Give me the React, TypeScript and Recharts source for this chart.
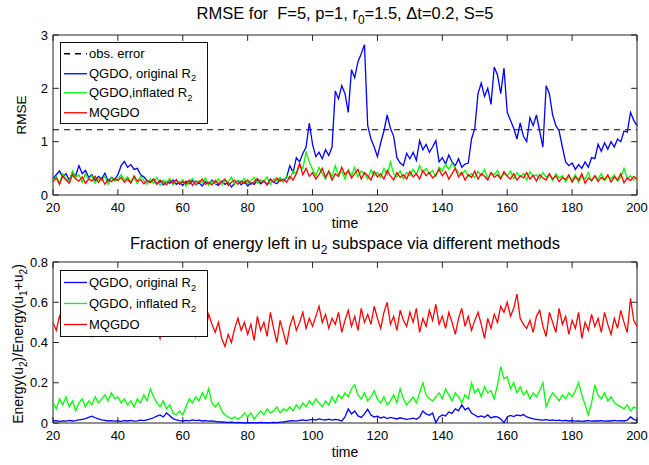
import React from "react";
import { LineChart, Line, XAxis, YAxis, ReferenceLine, ReferenceArea } from "recharts";

const FONT = '"Liberation Sans", Arial, Helvetica, sans-serif';

// time axis, step 1
const time = Array.from({ length: 181 }, (_, i) => 20 + i);
const xTicks = [20, 40, 60, 80, 100, 120, 140, 160, 180, 200];
const rmseTicks = [0, 1, 2, 3];
const fracTicks = [0, 0.2, 0.4, 0.6, 0.8];
const obsError = 1.2247;

// RMSE, QGDO original R2
const rmseOrig = [
  0.30, 0.38, 0.45, 0.33, 0.40, 0.28, 0.42, 0.36, 0.55, 0.40,
  0.46, 0.33, 0.38, 0.27, 0.35, 0.30, 0.41, 0.26, 0.33, 0.29,
  0.38, 0.55, 0.63, 0.52, 0.57, 0.48, 0.50, 0.38, 0.34, 0.27,
  0.24, 0.30, 0.21, 0.26, 0.19, 0.25, 0.22, 0.28, 0.20, 0.24,
  0.18, 0.26, 0.21, 0.27, 0.19, 0.23, 0.17, 0.25, 0.20, 0.28,
  0.21, 0.18, 0.26, 0.20, 0.24, 0.15, 0.22, 0.27, 0.19, 0.25,
  0.17, 0.23, 0.20, 0.28, 0.21, 0.26, 0.19, 0.30, 0.24, 0.21,
  0.29, 0.25, 0.33, 0.55, 0.42, 0.70, 0.62, 0.78, 0.90, 1.35,
  0.95, 0.72, 0.80, 0.68, 0.85, 0.74, 0.90, 1.95, 1.80, 2.05,
  1.90, 1.55, 2.35, 2.20, 2.50, 2.65, 2.82, 1.30, 1.05, 0.90,
  0.72, 0.98, 1.20, 1.50, 1.25, 1.10, 0.70, 0.60, 0.55, 0.78,
  0.68, 0.80, 0.65, 1.02, 0.85, 0.95, 0.80, 0.90, 1.02, 0.62,
  0.70, 0.58, 0.75, 0.62, 0.55, 0.68, 0.52, 0.58, 0.60, 1.05,
  1.25, 1.90, 2.10, 1.85, 2.00, 1.70, 2.40, 2.25, 1.90, 2.38,
  1.55, 1.40, 1.25, 1.05, 1.35, 1.10, 1.00, 1.45, 1.30, 1.50,
  1.20, 0.90, 2.05, 1.90, 1.50, 1.30, 1.20, 0.90, 0.62, 0.55,
  0.60, 0.48, 0.57, 0.50, 0.62, 0.52, 0.70, 0.68, 0.95, 0.82,
  0.98, 0.86, 1.00, 0.90, 1.05, 1.00, 1.20, 1.18, 1.55, 1.40,
  1.30,
];

// RMSE, QGDO inflated R2
const rmseInfl = [
  0.28, 0.35, 0.22, 0.40, 0.30, 0.26, 0.45, 0.33, 0.38, 0.24,
  0.40, 0.30, 0.36, 0.22, 0.31, 0.27, 0.35, 0.20, 0.32, 0.26,
  0.30, 0.38, 0.28, 0.34, 0.25, 0.32, 0.22, 0.36, 0.27, 0.20,
  0.30, 0.22, 0.33, 0.18, 0.28, 0.24, 0.31, 0.19, 0.26, 0.22,
  0.29, 0.17, 0.25, 0.31, 0.20, 0.27, 0.23, 0.32, 0.18, 0.26,
  0.22, 0.30, 0.19, 0.27, 0.24, 0.33, 0.20, 0.28, 0.23, 0.31,
  0.21, 0.27, 0.33, 0.22, 0.29, 0.25, 0.34, 0.20, 0.30, 0.26,
  0.33, 0.24, 0.36, 0.30, 0.45, 0.40, 0.55, 0.50, 0.80, 0.62,
  0.48, 0.36, 0.52, 0.40, 0.30, 0.46, 0.35, 0.55, 0.38, 0.44,
  0.30, 0.48, 0.36, 0.52, 0.34, 0.45, 0.40, 0.30, 0.47, 0.36,
  0.42, 0.33, 0.50, 0.38, 0.62, 0.40, 0.34, 0.45, 0.30, 0.42,
  0.36, 0.48, 0.38, 0.55, 0.42, 0.50, 0.40, 0.46, 0.35, 0.52,
  0.45, 0.58, 0.48, 0.60, 0.50, 0.42, 0.38, 0.46, 0.35, 0.40,
  0.33, 0.44, 0.36, 0.48, 0.30, 0.42, 0.38, 0.46, 0.32, 0.40,
  0.36, 0.45, 0.30, 0.42, 0.34, 0.40, 0.28, 0.44, 0.35, 0.38,
  0.30, 0.42, 0.33, 0.38, 0.27, 0.40, 0.32, 0.36, 0.25, 0.34,
  0.28, 0.38, 0.24, 0.35, 0.30, 0.42, 0.26, 0.36, 0.30, 0.40,
  0.27, 0.35, 0.30, 0.38, 0.26, 0.33, 0.50, 0.30, 0.36, 0.28,
  0.34,
];

// RMSE, MQGDO
const rmseMq = [
  0.25, 0.32, 0.20, 0.36, 0.28, 0.22, 0.38, 0.30, 0.26, 0.34,
  0.22, 0.30, 0.26, 0.35, 0.24, 0.32, 0.20, 0.29, 0.25, 0.31,
  0.27, 0.33, 0.24, 0.30, 0.22, 0.36, 0.26, 0.29, 0.21, 0.27,
  0.23, 0.30, 0.20, 0.28, 0.24, 0.19, 0.27, 0.22, 0.29, 0.20,
  0.25, 0.21, 0.28, 0.18, 0.26, 0.23, 0.30, 0.20, 0.24, 0.19,
  0.27, 0.21, 0.25, 0.30, 0.18, 0.24, 0.28, 0.20, 0.26, 0.22,
  0.28, 0.20, 0.25, 0.31, 0.23, 0.27, 0.19, 0.29, 0.24, 0.32,
  0.26, 0.30, 0.24, 0.35, 0.28, 0.40, 0.60, 0.38, 0.50, 0.35,
  0.42, 0.30, 0.38, 0.50, 0.33, 0.44, 0.28, 0.40, 0.35, 0.52,
  0.38, 0.45, 0.32, 0.40, 0.48, 0.30, 0.42, 0.36, 0.28, 0.44,
  0.34, 0.40, 0.30, 0.46, 0.36, 0.28, 0.42, 0.33, 0.38, 0.30,
  0.44, 0.34, 0.40, 0.30, 0.46, 0.36, 0.42, 0.32, 0.38, 0.48,
  0.36, 0.44, 0.30, 0.40, 0.50, 0.34, 0.42, 0.28, 0.38, 0.33,
  0.45, 0.30, 0.40, 0.35, 0.28, 0.42, 0.33, 0.38, 0.30, 0.44,
  0.35, 0.30, 0.40, 0.28, 0.36, 0.32, 0.42, 0.30, 0.37, 0.26,
  0.38, 0.32, 0.28, 0.40, 0.30, 0.36, 0.25, 0.33, 0.29, 0.38,
  0.24, 0.34, 0.28, 0.40, 0.22, 0.32, 0.27, 0.36, 0.25, 0.33,
  0.29, 0.38, 0.24, 0.34, 0.28, 0.40, 0.23, 0.32, 0.27, 0.35,
  0.30,
];

// energy fraction, QGDO original R2
const fracOrig = [
  0.010, 0.012, 0.008, 0.011, 0.009, 0.013, 0.010, 0.012, 0.015, 0.018,
  0.022, 0.028, 0.034, 0.026, 0.020, 0.016, 0.013, 0.010, 0.012, 0.009,
  0.011, 0.008, 0.012, 0.010, 0.013, 0.009, 0.011, 0.014, 0.012, 0.016,
  0.020, 0.026, 0.034, 0.040, 0.030, 0.050, 0.036, 0.022, 0.015, 0.012,
  0.010, 0.013, 0.011, 0.015, 0.012, 0.014, 0.010, 0.012, 0.009, 0.011,
  0.008, 0.006, 0.005, 0.004, 0.003, 0.004, 0.002, 0.003, 0.002, 0.001,
  0.002, 0.001, 0.002, 0.001, 0.003, 0.002, 0.001, 0.002, 0.003, 0.002,
  0.004, 0.005, 0.008, 0.010, 0.012, 0.009, 0.013, 0.015, 0.012, 0.016,
  0.018, 0.014, 0.020, 0.017, 0.015, 0.019, 0.014, 0.018, 0.016, 0.010,
  0.030, 0.070, 0.045, 0.060, 0.035, 0.028, 0.045, 0.068, 0.040, 0.030,
  0.034, 0.025, 0.030, 0.022, 0.028, 0.024, 0.020, 0.026, 0.022, 0.018,
  0.020, 0.024, 0.018, 0.030, 0.060, 0.045, 0.038, 0.050, 0.002, 0.030,
  0.040, 0.035, 0.055, 0.048, 0.070, 0.060, 0.090, 0.065, 0.075, 0.050,
  0.040, 0.030, 0.035, 0.028, 0.040, 0.025, 0.032, 0.030, 0.020, 0.002,
  0.030, 0.038, 0.032, 0.040, 0.036, 0.042, 0.030, 0.025, 0.020, 0.018,
  0.016, 0.014, 0.017, 0.013, 0.015, 0.012, 0.014, 0.011, 0.013, 0.010,
  0.012, 0.009, 0.011, 0.008, 0.010, 0.012, 0.009, 0.011, 0.010, 0.012,
  0.009, 0.011, 0.010, 0.013, 0.011, 0.012, 0.010, 0.014, 0.030, 0.018,
  0.012,
];

// energy fraction, QGDO inflated R2
const fracInfl = [
  0.10, 0.07, 0.12, 0.09, 0.13, 0.08, 0.11, 0.06, 0.10, 0.12,
  0.08, 0.11, 0.09, 0.13, 0.10, 0.12, 0.14, 0.11, 0.15, 0.12,
  0.13, 0.10, 0.12, 0.09, 0.11, 0.08, 0.12, 0.10, 0.14, 0.11,
  0.17, 0.13, 0.10, 0.08, 0.11, 0.07, 0.09, 0.05, 0.04, 0.06,
  0.04, 0.08, 0.12, 0.10, 0.13, 0.11, 0.15, 0.12, 0.17, 0.10,
  0.08, 0.10, 0.06, 0.04, 0.03, 0.02, 0.03, 0.02, 0.03, 0.05,
  0.03, 0.05, 0.02, 0.04, 0.06, 0.04, 0.07, 0.05, 0.06, 0.08,
  0.05, 0.07, 0.06, 0.08, 0.06, 0.09, 0.07, 0.10, 0.08, 0.11,
  0.09, 0.12, 0.10, 0.08, 0.11, 0.09, 0.13, 0.10, 0.14, 0.12,
  0.15, 0.13, 0.17, 0.19, 0.14, 0.12, 0.15, 0.11, 0.13, 0.16,
  0.12, 0.10, 0.13, 0.09, 0.11, 0.14, 0.10, 0.17, 0.12, 0.09,
  0.11, 0.13, 0.10, 0.15, 0.20, 0.14, 0.12, 0.11, 0.13, 0.15,
  0.12, 0.17, 0.14, 0.11, 0.15, 0.13, 0.10, 0.14, 0.12, 0.20,
  0.15, 0.17, 0.13, 0.18, 0.15, 0.16, 0.12, 0.19, 0.28, 0.22,
  0.23, 0.17, 0.20, 0.15, 0.18, 0.14, 0.16, 0.12, 0.15, 0.13,
  0.16, 0.20, 0.08, 0.12, 0.15, 0.13, 0.11, 0.14, 0.12, 0.15,
  0.13, 0.16, 0.20, 0.14, 0.09, 0.04, 0.10, 0.19, 0.14, 0.12,
  0.15, 0.11, 0.13, 0.10, 0.09, 0.08, 0.07, 0.09, 0.06, 0.08,
  0.07,
];

// energy fraction, MQGDO
const fracMq = [
  0.50, 0.46, 0.53, 0.48, 0.44, 0.51, 0.47, 0.54, 0.49, 0.45,
  0.52, 0.47, 0.43, 0.50, 0.55, 0.46, 0.49, 0.44, 0.52, 0.48,
  0.45, 0.51, 0.47, 0.54, 0.49, 0.43, 0.50, 0.46, 0.53, 0.48,
  0.44, 0.51, 0.47, 0.42, 0.50, 0.46, 0.53, 0.45, 0.49, 0.44,
  0.48, 0.52, 0.45, 0.49, 0.43, 0.47, 0.51, 0.46, 0.54, 0.49,
  0.45, 0.50, 0.42, 0.38, 0.44, 0.40, 0.47, 0.52, 0.46, 0.50,
  0.44, 0.49, 0.41, 0.53, 0.46, 0.50, 0.43, 0.55, 0.47, 0.40,
  0.51, 0.45, 0.39, 0.48, 0.53, 0.46, 0.50, 0.55, 0.47, 0.52,
  0.48, 0.53, 0.58, 0.50, 0.54, 0.47, 0.52, 0.49, 0.55, 0.45,
  0.51, 0.56, 0.48, 0.53, 0.46, 0.57, 0.50, 0.54, 0.49, 0.58,
  0.52, 0.47, 0.55, 0.60, 0.49, 0.53, 0.46, 0.56, 0.51, 0.48,
  0.55, 0.50, 0.57, 0.45, 0.52, 0.48, 0.56, 0.51, 0.59, 0.49,
  0.53, 0.47, 0.55, 0.50, 0.44, 0.52, 0.57, 0.48, 0.53, 0.46,
  0.51, 0.55, 0.49, 0.42, 0.52, 0.47, 0.54, 0.50, 0.58, 0.55,
  0.60, 0.53, 0.57, 0.64, 0.52, 0.49, 0.47, 0.51, 0.45, 0.53,
  0.56, 0.48, 0.43, 0.55, 0.50, 0.45, 0.57, 0.49, 0.53, 0.44,
  0.51, 0.47, 0.55, 0.42, 0.50, 0.46, 0.54, 0.48, 0.52, 0.45,
  0.55, 0.49, 0.44, 0.52, 0.47, 0.56, 0.50, 0.45, 0.62, 0.51,
  0.48,
];

const rmseRows = time.map((t, i) => ({ t, orig: rmseOrig[i], infl: rmseInfl[i], mq: rmseMq[i] }));
const fracRows = time.map((t, i) => ({ t, orig: fracOrig[i], infl: fracInfl[i], mq: fracMq[i] }));

const Sub = ({ children }: { children: React.ReactNode }) => (
  <span style={{ fontSize: "0.72em", position: "relative", top: "0.4em" }}>{children}</span>
);

function LegendBox({
  left,
  top,
  width,
  rowH,
  items,
}: {
  left: number;
  top: number;
  width: number;
  rowH: number;
  items: Array<{ label: React.ReactNode; color: string; dash?: boolean }>;
}) {
  return (
    <div
      style={{
        position: "absolute",
        left,
        top,
        width,
        background: "#fff",
        border: "1px solid #111",
        fontFamily: FONT,
        fontSize: 13,
        paddingTop: 1,
        paddingBottom: 1,
      }}
    >
      {items.map((it, i) => (
        <div key={i} style={{ display: "flex", alignItems: "center", height: rowH, whiteSpace: "nowrap" }}>
          <svg width={27} height={rowH} style={{ flex: "none" }}>
            <line
              x1={3}
              x2={26}
              y1={rowH / 2}
              y2={rowH / 2}
              stroke={it.color}
              strokeWidth={1.3}
              strokeDasharray={it.dash ? "6 5" : undefined}
            />
          </svg>
          <span style={{ marginLeft: 1 }}>{it.label}</span>
        </div>
      ))}
    </div>
  );
}

function boxTicks(xs: number[], ys: number[], x0: number, x1: number, y0: number, y1: number, lx: number, ly: number) {
  const out: React.ReactNode[] = [];
  xs.forEach((x) => {
    out.push(<ReferenceLine key={"xb" + x} segment={[{ x, y: y0 }, { x, y: y0 + ly }]} stroke="#222" />);
    out.push(<ReferenceLine key={"xt" + x} segment={[{ x, y: y1 }, { x, y: y1 - ly }]} stroke="#222" />);
  });
  ys.forEach((y) => {
    out.push(<ReferenceLine key={"yl" + y} segment={[{ x: x0, y }, { x: x0 + lx, y }]} stroke="#222" />);
    out.push(<ReferenceLine key={"yr" + y} segment={[{ x: x1, y }, { x: x1 - lx, y }]} stroke="#222" />);
  });
  return out;
}

const tickStyle = { fontSize: 13, fill: "#000", fontFamily: FONT };

export default function App() {
  return (
    <div style={{ position: "absolute", left: 0, top: 0, width: 649, height: 465, background: "#fff", fontFamily: FONT }}>
      {/* top panel */}
      <div style={{ position: "absolute", left: 0, top: 0 }}>
        <LineChart width={649} height={235} data={rmseRows} margin={{ top: 35, right: 12, left: 13, bottom: 10 }}>
          <XAxis
            dataKey="t"
            type="number"
            domain={[20, 200]}
            ticks={xTicks}
            tickLine={false}
            axisLine={false}
            tick={tickStyle}
            interval={0}
          />
          <YAxis
            type="number"
            domain={[0, 3]}
            ticks={rmseTicks}
            width={40}
            tickLine={false}
            axisLine={false}
            tickSize={3}
            tickMargin={2}
            tick={tickStyle}
            interval={0}
          />
          <ReferenceArea x1={20} x2={200} y1={0} y2={3} fill="none" stroke="#222" strokeOpacity={1} />
          {boxTicks(xTicks, rmseTicks, 20, 200, 0, 3, 1.8, 0.11)}
          <ReferenceLine y={obsError} stroke="#000" strokeDasharray="6 5" strokeWidth={1.1} />
          <Line dataKey="orig" stroke="#0000ff" strokeWidth={1.3} dot={false} isAnimationActive={false} />
          <Line dataKey="infl" stroke="#00ff00" strokeWidth={1.3} dot={false} isAnimationActive={false} />
          <Line dataKey="mq" stroke="#ff0000" strokeWidth={1.3} dot={false} isAnimationActive={false} />
        </LineChart>
      </div>

      {/* bottom panel */}
      <div style={{ position: "absolute", left: 0, top: 230 }}>
        <LineChart width={649} height={235} data={fracRows} margin={{ top: 32, right: 12, left: 13, bottom: 12 }}>
          <XAxis
            dataKey="t"
            type="number"
            domain={[20, 200]}
            ticks={xTicks}
            tickLine={false}
            axisLine={false}
            tick={tickStyle}
            interval={0}
          />
          <YAxis
            type="number"
            domain={[0, 0.8]}
            ticks={fracTicks}
            width={40}
            tickLine={false}
            axisLine={false}
            tickSize={3}
            tickMargin={2}
            tick={tickStyle}
            interval={0}
            tickFormatter={(v: number) => (v === 0 ? "0" : v.toFixed(1))}
          />
          <ReferenceArea x1={20} x2={200} y1={0} y2={0.8} fill="none" stroke="#222" strokeOpacity={1} />
          {boxTicks(xTicks, fracTicks, 20, 200, 0, 0.8, 1.8, 0.029)}
          <Line dataKey="orig" stroke="#0000ff" strokeWidth={1.3} dot={false} isAnimationActive={false} />
          <Line dataKey="infl" stroke="#00ff00" strokeWidth={1.3} dot={false} isAnimationActive={false} />
          <Line dataKey="mq" stroke="#ff0000" strokeWidth={1.3} dot={false} isAnimationActive={false} />
        </LineChart>
      </div>

      {/* titles and axis labels */}
      <div style={{ position: "absolute", left: 345, top: 13, transform: "translate(-50%,-50%)", fontSize: 16.5, whiteSpace: "nowrap" }}>
        RMSE for&nbsp; F=5, p=1, r<Sub>0</Sub>=1.5, Δt=0.2, S=5
      </div>
      <div style={{ position: "absolute", left: 345, top: 223, transform: "translate(-50%,-50%)", fontSize: 14, whiteSpace: "nowrap" }}>
        time
      </div>
      <div style={{ position: "absolute", left: 345, top: 243, transform: "translate(-50%,-50%)", fontSize: 16.5, whiteSpace: "nowrap" }}>
        Fraction of energy left in u<Sub>2</Sub> subspace via different methods
      </div>
      <div style={{ position: "absolute", left: 345, top: 452, transform: "translate(-50%,-50%)", fontSize: 14, whiteSpace: "nowrap" }}>
        time
      </div>
      <div
        style={{
          position: "absolute",
          left: 21,
          top: 115,
          transform: "translate(-50%,-50%) rotate(-90deg)",
          fontSize: 13.5,
          whiteSpace: "nowrap",
        }}
      >
        RMSE
      </div>
      <div
        style={{
          position: "absolute",
          left: 18,
          top: 344,
          transform: "translate(-50%,-50%) rotate(-90deg)",
          fontSize: 14,
          whiteSpace: "nowrap",
        }}
      >
        Energy(u<Sub>2</Sub>)/Energy(u<Sub>1</Sub>+u<Sub>2</Sub>)
      </div>

      <LegendBox
        left={60}
        top={42}
        width={146}
        rowH={19.5}
        items={[
          { label: "obs. error", color: "#000", dash: true },
          { label: <>QGDO, original R<Sub>2</Sub></>, color: "#0000ff" },
          { label: <>QGDO,inflated R<Sub>2</Sub></>, color: "#00ff00" },
          { label: "MQGDO", color: "#ff0000" },
        ]}
      />
      <LegendBox
        left={60}
        top={270}
        width={146}
        rowH={21}
        items={[
          { label: <>QGDO, original R<Sub>2</Sub></>, color: "#0000ff" },
          { label: <>QGDO, inflated R<Sub>2</Sub></>, color: "#00ff00" },
          { label: "MQGDO", color: "#ff0000" },
        ]}
      />
    </div>
  );
}
